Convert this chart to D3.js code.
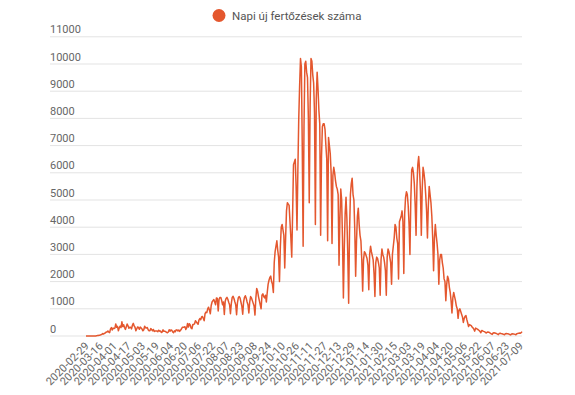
<!DOCTYPE html>
<html>
<head>
<meta charset="utf-8">
<script src="https://cdn.jsdelivr.net/npm/d3@7"></script>
<style>
  body { margin: 0; background: #fff; }
  svg { font-family: Roboto, "Noto Sans", sans-serif; }
</style>
</head>
<body>
<div id="chart"></div>
<script>
// napi új esetek
var legendLabel = "Napi új fertőzések száma";
var startDate = "2020-02-29";
var yTickValues = [0, 1000, 2000, 3000, 4000, 5000, 6000, 7000, 8000, 9000, 10000, 11000];
var labelStep = 16;

var feb2020 = [0];
var mar2020 = [0, 0, 0, 1, 0, 0, 1, 4, 2, 4, 2, 5, 16, 17, 25, 30, 44, 60, 90, 70,
  100, 110, 143, 143, 186, 144, 123, 263, 308, 220, 290];
var apr2020 = [277, 291, 445, 322, 353, 193, 299, 364, 305, 523, 347, 415, 312, 242, 339,
  439, 374, 286, 321, 319, 260, 395, 466, 370, 321, 190, 268, 333, 306, 245];
var may2020 = [327, 293, 255, 190, 228, 362, 302, 296, 311, 229, 190, 192, 272, 237, 190,
  241, 167, 186, 186, 184, 158, 214, 179, 186, 130, 146, 226, 175, 174, 161, 136];
var jun2020 = [119, 150, 233, 176, 222, 211, 150, 121, 188, 158, 226, 218, 188, 221, 169,
  214, 256, 320, 320, 325, 343, 242, 295, 460, 330, 450, 403, 294, 264, 422];
var jul2020 = [420, 450, 560, 520, 470, 430, 580, 640, 600, 700, 720, 640, 560, 820, 880,
  860, 1000, 1060, 950, 820, 1120, 1250, 1300, 1340, 1250, 1150, 1400, 1380, 920, 1350, 1420];
var aug2020 = [1420, 1300, 1150, 1250, 790, 1280, 1380, 1420, 1350, 1240, 1150, 820, 1200, 1420, 1460,
  1380, 1260, 1150, 780, 1230, 1410, 1450, 1390, 1240, 1100, 800, 1250, 1420, 1480, 1390, 1250];
var sep2020 = [1150, 850, 1250, 1450, 1400, 1300, 1200, 1100, 770, 1400, 1750, 1650, 1450, 1300, 1150,
  1000, 1500, 1550, 1450, 1400, 1500, 1250, 1600, 1900, 2050, 2150, 2200, 2000, 1900, 1600];
var oct2020 = [2700, 3100, 3300, 3500, 3150, 2900, 2000, 3300, 4000, 4100, 3900, 3700, 2500, 3600, 4600,
  4900, 4850, 4800, 4200, 3600, 2900, 4500, 6300, 6400, 6500, 5500, 3900, 6100, 8000, 9200, 10200];
var nov2020 = [9900, 7000, 3300, 7700, 10000, 10100, 9700, 9500, 8000, 4900, 8500, 10200, 10100, 9600, 9300,
  8200, 4100, 8700, 9700, 9100, 8300, 7800, 3700, 6600, 7700, 7800, 7800, 7600, 7000, 6500];
var dec2020 = [3500, 7300, 7000, 6700, 6000, 3400, 5900, 6200, 6000, 5700, 5500, 5400, 5200, 2600, 4300,
  5400, 5000, 3500, 1400, 3200, 4500, 5100, 4300, 3000, 1200, 3800, 5200, 5600, 5800, 5200, 5000];
var jan2021 = [3900, 2200, 3500, 4400, 4700, 4100, 3700, 3500, 2800, 1650, 2800, 3100, 3050, 2950, 2850,
  2600, 1700, 3000, 3300, 3100, 2950, 2800, 2300, 1450, 2700, 2900, 2850, 2700, 2500, 1500, 2800];
var feb2021 = [3200, 3000, 2900, 2700, 2400, 1500, 2900, 3200, 3100, 2900, 2700, 1900, 3000, 3300,
  3600, 4100, 4000, 3600, 3400, 2100, 4200, 4300, 4400, 4600, 4200, 2300, 4500, 5100];
var mar2021 = [5300, 5200, 4800, 4100, 3000, 5000, 6100, 6200, 6000, 5600, 4800, 3700, 5500, 6300, 6600,
  6100, 5300, 3700, 5400, 6200, 6000, 5700, 5200, 4600, 3600, 4800, 5500, 5200, 4900, 4400, 3600];
var apr2021 = [2400, 3600, 4100, 3700, 3400, 3000, 1900, 2800, 3000, 3000, 2700, 2500, 2100, 2000, 1300,
  1900, 2200, 2100, 1800, 1600, 1300, 850, 1400, 1600, 1450, 1300, 1100, 1000, 650, 950];
var may2021 = [1000, 900, 800, 700, 500, 650, 720, 750, 600, 480, 350, 420, 400, 380, 330,
  300, 250, 180, 290, 270, 250, 230, 200, 170, 120, 200, 190, 170, 160, 140, 110];
var jun2021 = [130, 150, 140, 120, 100, 80, 60, 110, 120, 110, 100, 85, 70, 50, 95,
  100, 90, 85, 75, 60, 45, 85, 90, 85, 80, 70, 55, 40, 75, 80];
var jul2021 = [75, 70, 60, 45, 85, 95, 100, 110, 100, 120, 160];

var dailyCases = [].concat(feb2020, mar2020, apr2020, may2020, jun2020, jul2020, aug2020,
  sep2020, oct2020, nov2020, dec2020, jan2021, feb2021, mar2021, apr2021, may2021, jun2021, jul2021);

var parseDate = d3.utcParse("%Y-%m-%d"),
    formatDate = d3.utcFormat("%Y-%m-%d");
var first = parseDate(startDate);
var dates = dailyCases.map(function (d, i) { return formatDate(d3.utcDay.offset(first, i)); });

var width = 575, height = 395,
    gridLeft = 50, plotLeft = 86, plotRight = 522,
    plotTop = 36.8, plotBottom = 336,
    lineColor = "#e4572e", textColor = "#666";

var svg = d3.select("#chart").append("svg")
    .attr("width", width)
    .attr("height", height);

var x = d3.scalePoint()
    .domain(dates)
    .range([plotLeft, plotRight]);

var y = d3.scaleLinear()
    .domain([0, 11000])
    .range([plotBottom, plotTop]);

// vízszintes rácsvonalak + feliratok
var grid = svg.append("g").attr("class", "grid");
grid.selectAll("line")
    .data(yTickValues)
    .enter().append("line")
    .attr("x1", gridLeft)
    .attr("x2", plotRight)
    .attr("y1", function (d) { return y(d); })
    .attr("y2", function (d) { return y(d); })
    .style("stroke", "#e3e3e3")
    .style("stroke-width", 1);

grid.selectAll("text")
    .data(yTickValues)
    .enter().append("text")
    .attr("x", gridLeft)
    .attr("y", function (d) { return y(d) - 3.5; })
    .style("font-size", "11px")
    .style("fill", textColor)
    .text(function (d) { return d; });

// dátum feliratok, minden 16. nap
var xLabels = dates.filter(function (d, i) { return i % labelStep === 0; });
svg.append("g").attr("class", "x-labels")
    .selectAll("text")
    .data(xLabels)
    .enter().append("text")
    .attr("transform", function (d) { return "translate(" + (x(d) + 1) + "," + 344 + ") rotate(-45)"; })
    .attr("text-anchor", "end")
    .attr("dy", ".35em")
    .style("font-size", "11px")
    .style("fill", textColor)
    .text(function (d) { return d; });

var line = d3.line()
    .x(function (d, i) { return x(dates[i]); })
    .y(function (d) { return y(d); });

svg.append("path")
    .datum(dailyCases)
    .attr("d", line)
    .style("fill", "none")
    .style("stroke", lineColor)
    .style("stroke-width", 1.5)
    .style("stroke-linejoin", "round");

// jelmagyarázat
var legend = svg.append("g").attr("class", "legend");
legend.append("circle")
    .attr("cx", 219)
    .attr("cy", 15.5)
    .attr("r", 6.5)
    .style("fill", lineColor);
legend.append("text")
    .attr("x", 232)
    .attr("y", 19.5)
    .style("font-size", "11.5px")
    .style("fill", "#555")
    .text(legendLabel);
</script>
</body>
</html>
